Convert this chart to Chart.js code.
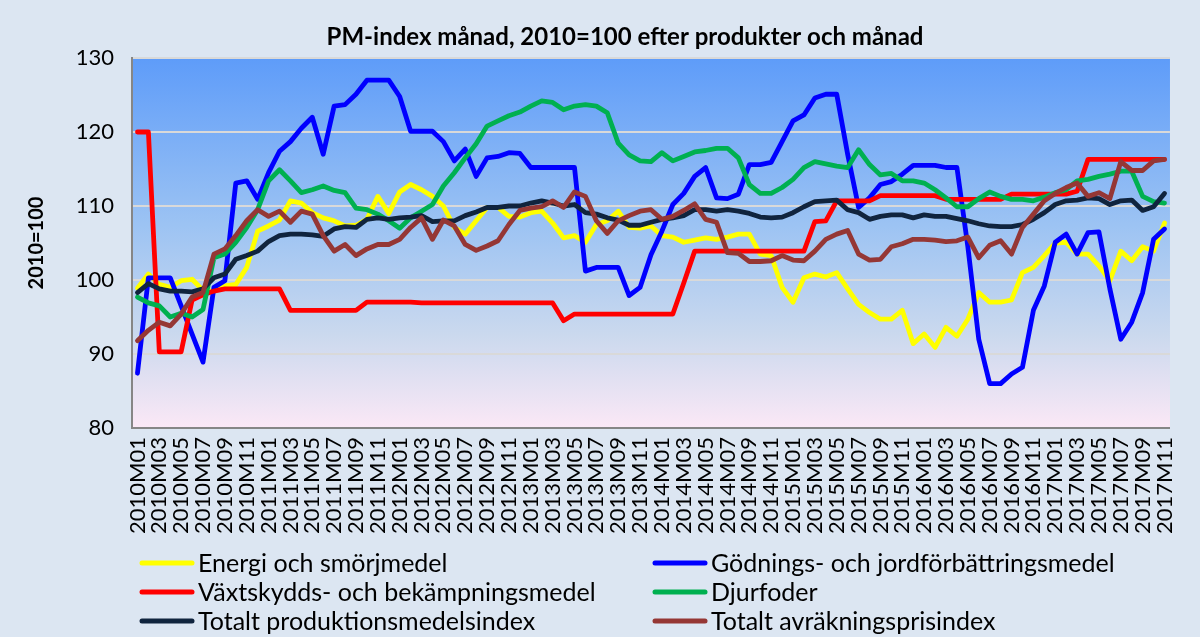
<!DOCTYPE html>
<html>
<head>
<meta charset="utf-8">
<script src="https://cdn.jsdelivr.net/npm/chart.js@4.4.1/dist/chart.umd.min.js"></script>
<style>
html,body{margin:0;padding:0;background:#dce6f2;}
canvas{display:block;}
</style>
</head>
<body>
<canvas id="c" width="1200" height="637"></canvas>
<script>
const categories = [
"2010M01","2010M02","2010M03","2010M04","2010M05","2010M06","2010M07","2010M08","2010M09","2010M10","2010M11","2010M12",
"2011M01","2011M02","2011M03","2011M04","2011M05","2011M06","2011M07","2011M08","2011M09","2011M10","2011M11","2011M12",
"2012M01","2012M02","2012M03","2012M04","2012M05","2012M06","2012M07","2012M08","2012M09","2012M10","2012M11","2012M12",
"2013M01","2013M02","2013M03","2013M04","2013M05","2013M06","2013M07","2013M08","2013M09","2013M10","2013M11","2013M12",
"2014M01","2014M02","2014M03","2014M04","2014M05","2014M06","2014M07","2014M08","2014M09","2014M10","2014M11","2014M12",
"2015M01","2015M02","2015M03","2015M04","2015M05","2015M06","2015M07","2015M08","2015M09","2015M10","2015M11","2015M12",
"2016M01","2016M02","2016M03","2016M04","2016M05","2016M06","2016M07","2016M08","2016M09","2016M10","2016M11","2016M12",
"2017M01","2017M02","2017M03","2017M04","2017M05","2017M06","2017M07","2017M08","2017M09","2017M10","2017M11"
];

const energi = [
98.9,100.8,99.4,99.0,99.9,100.1,98.6,98.5,99.2,99.4,101.7,106.6,
107.3,108.1,110.7,110.4,109.1,108.4,108.0,107.3,107.4,108.2,111.3,109.0,
111.9,112.9,112.2,111.3,110.0,107.1,106.2,108.0,109.8,109.8,108.6,108.5,
109.1,109.3,107.7,105.7,106.0,105.1,107.5,108.0,109.3,107.1,107.0,107.3,
106.0,105.8,105.1,105.4,105.7,105.5,105.8,106.2,106.2,103.5,103.3,99.0,
97.0,100.3,100.8,100.4,101.0,98.8,96.7,95.6,94.7,94.7,95.9,91.4,
92.7,90.9,93.6,92.4,94.7,98.3,97.0,97.0,97.3,101.0,101.7,103.3,
105.0,105.1,103.5,103.5,101.9,99.9,103.9,102.6,104.5,103.9,107.7
];

const godning = [
87.4,100.3,100.3,100.3,96.5,92.7,88.9,99.0,99.9,113.1,113.4,110.9,
114.5,117.4,118.7,120.5,122.0,117.0,123.5,123.7,125.1,127.0,127.0,127.0,
124.8,120.1,120.1,120.1,118.7,116.1,117.7,114.0,116.5,116.7,117.2,117.1,
115.2,115.2,115.2,115.2,115.2,101.2,101.7,101.7,101.7,97.9,99.0,103.4,
106.6,110.2,111.7,114.0,115.2,111.1,111.0,111.6,115.6,115.6,115.9,118.7,
121.5,122.3,124.6,125.1,125.1,117.0,109.8,111.1,112.9,113.3,114.3,115.5,
115.5,115.5,115.2,115.2,104.5,92.0,86.0,86.0,87.3,88.2,95.9,99.2,
105.1,106.2,103.5,106.4,106.5,98.8,92.0,94.3,98.3,105.5,106.9
];

const vaxtskydd = [
120.0,120.0,90.3,90.3,90.3,97.3,98.0,98.5,98.8,98.8,98.8,98.8,
98.8,98.8,95.9,95.9,95.9,95.9,95.9,95.9,95.9,97.0,97.0,97.0,
97.0,97.0,96.9,96.9,96.9,96.9,96.9,96.9,96.9,96.9,96.9,96.9,
96.9,96.9,96.9,94.5,95.4,95.4,95.4,95.4,95.4,95.4,95.4,95.4,
95.4,95.4,99.6,103.9,103.9,103.9,103.9,103.9,103.9,103.9,103.9,103.9,
103.9,103.9,107.9,108.0,110.7,110.7,110.7,110.7,111.4,111.4,111.4,111.4,
111.4,111.4,110.9,110.9,110.9,110.9,110.9,110.9,111.6,111.6,111.6,111.6,
111.6,111.6,112.0,116.3,116.3,116.3,116.3,116.3,116.3,116.3,116.3
];

const djurfoder = [
97.7,96.9,96.5,95.0,95.5,95.0,96.0,103.0,103.5,105.1,107.1,109.5,
113.4,114.9,113.4,111.8,112.2,112.7,112.1,111.8,109.7,109.5,108.9,108.0,
107.0,108.4,109.3,110.2,112.7,114.5,116.5,118.4,120.8,121.5,122.2,122.7,
123.5,124.2,124.0,123.0,123.5,123.7,123.5,122.6,118.5,116.9,116.1,116.0,
117.2,116.1,116.7,117.3,117.5,117.8,117.8,116.5,112.9,111.7,111.7,112.5,
113.6,115.2,116.0,115.7,115.4,115.2,117.6,115.6,114.2,114.4,113.4,113.4,
113.1,112.2,111.1,109.9,109.9,111.0,111.9,111.3,110.9,110.9,110.7,111.2,
111.8,112.2,113.4,113.6,114.0,114.3,114.7,114.7,111.3,110.6,110.4
];

const produktionsmedel = [
98.3,99.5,98.8,98.5,98.5,98.4,98.8,100.3,100.8,102.8,103.3,103.9,
105.2,106.0,106.2,106.2,106.1,105.9,106.9,107.2,107.1,108.2,108.4,108.2,
108.4,108.5,108.7,107.9,108.0,108.0,108.7,109.2,109.8,109.8,110.0,110.0,
110.4,110.7,110.4,110.0,110.2,109.1,108.9,108.4,108.1,107.4,107.4,107.8,
108.2,108.4,108.7,109.5,109.5,109.3,109.5,109.3,109.0,108.5,108.4,108.5,
109.1,109.9,110.6,110.7,110.8,109.5,109.1,108.2,108.6,108.8,108.8,108.4,
108.8,108.6,108.6,108.3,108.0,107.6,107.3,107.2,107.2,107.5,108.2,109.1,
110.2,110.7,110.8,111.1,111.0,110.2,110.7,110.8,109.4,109.9,111.7
];

const avrakningspris = [
91.8,93.2,94.3,93.8,95.4,97.7,98.3,103.5,104.2,106.0,108.0,109.5,
108.6,109.3,107.8,109.3,108.9,106.0,103.9,104.8,103.3,104.2,104.8,104.8,
105.5,107.1,108.4,105.5,108.1,107.3,104.8,104.0,104.6,105.3,107.5,109.4,
109.7,109.9,110.7,109.8,111.9,111.3,108.0,106.3,108.0,108.7,109.3,109.5,
108.2,108.6,109.4,110.3,108.2,107.8,103.7,103.6,102.5,102.5,102.6,103.3,
102.7,102.6,103.9,105.5,106.2,106.7,103.5,102.7,102.8,104.5,104.9,105.5,
105.5,105.4,105.2,105.3,105.8,103.0,104.7,105.3,103.5,107.1,108.9,110.7,
111.7,112.5,113.1,111.3,111.8,111.0,116.0,114.8,114.8,116.1,116.3
];

const seriesNames = [
"Energi och smörjmedel",
"Gödnings- och jordförbättringsmedel",
"Växtskydds- och bekämpningsmedel",
"Djurfoder",
"Totalt produktionsmedelsindex",
"Totalt avräkningsprisindex"
];
const seriesColors = ["#ffff00","#0000ff","#ff0000","#00b050","#10243e","#953735"];
const seriesValues = [energi, godning, vaxtskydd, djurfoder, produktionsmedel, avrakningspris];
const yTicks = [80, 90, 100, 110, 120, 130];
const chartTitle = "PM-index månad, 2010=100 efter produkter och månad";
const yAxisTitle = "2010=100";

const FONT = "Lato, 'Open Sans', sans-serif";

const bgPlugin = {
  id: 'bg',
  beforeDraw(chart) {
    const ctx = chart.ctx;
    ctx.save();
    ctx.fillStyle = '#dce6f2';
    ctx.fillRect(0, 0, chart.width, chart.height);
    const a = chart.chartArea;
    const g = ctx.createLinearGradient(0, a.top, 0, a.bottom);
    g.addColorStop(0, '#5e9cf9');
    g.addColorStop(0.45, '#9cc3f3');
    g.addColorStop(0.75, '#cbd9ee');
    g.addColorStop(1, '#fbe8f6');
    ctx.fillStyle = g;
    ctx.fillRect(a.left, a.top, a.right - a.left, a.bottom - a.top);
    ctx.restore();
  }
};

const textPlugin = {
  id: 'texts',
  afterDraw(chart) {
    const ctx = chart.ctx;
    ctx.save();
    // title
    ctx.fillStyle = '#000';
    ctx.font = "bold 24px " + FONT;
    ctx.textAlign = 'center';
    ctx.textBaseline = 'middle';
    ctx.fillText(chartTitle, 625, 37);
    // legend
    ctx.font = "25px " + FONT;
    ctx.textAlign = 'left';
    const cols = [142, 655];
    const rows = [563, 592, 621];
    chart.data.datasets.forEach((ds, i) => {
      const x = cols[i % 2];
      const y = rows[Math.floor(i / 2)];
      ctx.strokeStyle = ds.borderColor;
      ctx.lineWidth = 5;
      ctx.lineCap = 'round';
      ctx.beginPath();
      ctx.moveTo(x, y);
      ctx.lineTo(x + 50, y);
      ctx.stroke();
      ctx.fillStyle = '#000';
      ctx.fillText(ds.label, x + 56, y + 1);
    });
    ctx.restore();
  }
};

new Chart(document.getElementById('c'), {
  type: 'line',
  data: {
    labels: categories,
    datasets: seriesValues.map((vals, i) => ({
      label: seriesNames[i],
      data: vals,
      borderColor: seriesColors[i],
      backgroundColor: seriesColors[i],
      borderWidth: 4.8,
      pointRadius: 0,
      tension: 0,
      fill: false,
      borderJoinStyle: 'round',
      borderCapStyle: 'round',
      order: seriesValues.length - i
    }))
  },
  options: {
    responsive: false,
    animation: false,
    layout: { padding: { left: 0, right: 18, top: 58, bottom: 100 } },
    plugins: {
      legend: { display: false },
      tooltip: { enabled: false },
      title: { display: false }
    },
    scales: {
      x: {
        offset: true,
        grid: { display: false, drawTicks: false },
        border: { display: true, color: '#868686', width: 2 },
        ticks: {
          autoSkip: false,
          minRotation: 90,
          maxRotation: 90,
          padding: 9,
          color: '#000',
          font: { family: FONT, size: 22 },
          callback: function(v, i) { return i % 2 === 0 ? categories[i] : ''; }
        },
        afterFit(scale) { scale.height = 637 - 100 - 428; }
      },
      y: {
        min: 80,
        max: 130,
        afterBuildTicks(scale) { scale.ticks = yTicks.map(v => ({ value: v })); },
        grid: { color: '#d9d9d9', lineWidth: 2, drawTicks: false },
        border: { display: true, color: '#868686', width: 2 },
        ticks: {
          padding: 18,
          color: '#000',
          font: { family: FONT, size: 22 }
        },
        title: {
          display: true,
          text: yAxisTitle,
          color: '#000',
          font: { family: FONT, size: 20, weight: 'bold' },
          padding: { top: 25, bottom: 0 }
        },
        afterFit(scale) { scale.width = 132; }
      }
    }
  },
  plugins: [bgPlugin, textPlugin]
});
</script>
</body>
</html>
